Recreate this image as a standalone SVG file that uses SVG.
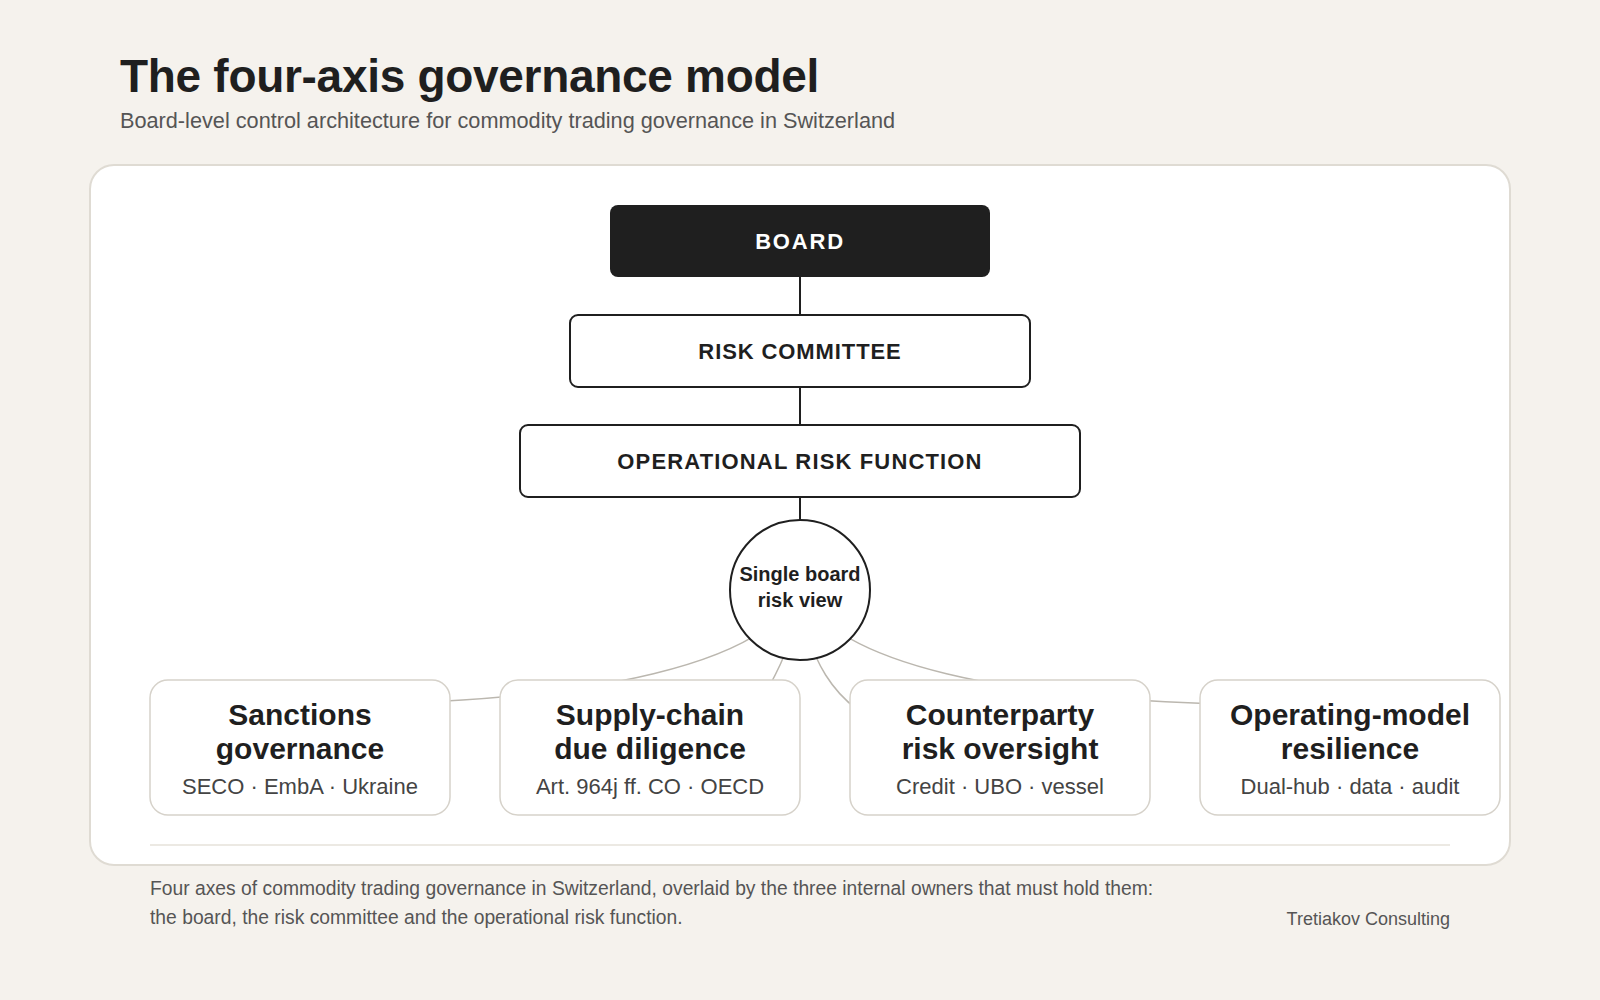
<svg xmlns="http://www.w3.org/2000/svg" width="1600" height="1000" viewBox="0 0 1600 1000">
<style>
text{font-family:"Liberation Sans",Arial,sans-serif}
.title{font-size:46px;font-weight:700;fill:#1f1f1f;letter-spacing:-0.3px}
.sub{font-size:21.7px;fill:#555}
.owner{fill:#fff;stroke:#1f1f1f;stroke-width:2}
.olabel{font-size:22px;font-weight:700;fill:#1f1f1f;text-anchor:middle;letter-spacing:0.9px}
.axis{fill:#fff;stroke:#d6d2ca;stroke-width:1.5}
.atitle{font-size:30px;font-weight:700;fill:#1f1f1f;text-anchor:middle}
.adesc{font-size:22px;fill:#444;text-anchor:middle}
.vline{stroke:#1f1f1f;stroke-width:2;fill:none}
.curve{stroke:#bbb7af;stroke-width:1.5;fill:none}
.foot{font-size:19.3px;fill:#555}
</style>
<rect x="0" y="0" width="1600" height="1000" fill="#f5f2ed"/>
<text class="title" x="120" y="92">The four-axis governance model</text>
<text class="sub" x="120" y="128">Board-level control architecture for commodity trading governance in Switzerland</text>
<rect x="90" y="165" width="1420" height="700" rx="24" fill="#fff" stroke="#dfdbd3" stroke-width="2"/>
<g id="connectors">
<path class="curve" d="M800 590 C768 660 608 705 300 705"/>
<path class="curve" d="M800 590 C832 660 992 705 1300 705"/>
<path class="curve" d="M800 590 C795 640 780 670 750 720"/>
<path class="curve" d="M800 590 C805 650 830 710 900 730"/>
<line class="vline" x1="800" y1="277" x2="800" y2="315"/>
<line class="vline" x1="800" y1="387" x2="800" y2="425"/>
<line class="vline" x1="800" y1="497" x2="800" y2="520"/>
</g>
<g id="board">
<rect x="610" y="205" width="380" height="72" rx="8" fill="#1f1f1f"/>
<text class="olabel" x="800" y="249" style="fill:#fff;letter-spacing:1.8px">BOARD</text>
</g>
<g id="risk-committee">
<rect class="owner" x="570" y="315" width="460" height="72" rx="8"/>
<text class="olabel" x="800" y="359">RISK COMMITTEE</text>
</g>
<g id="operational-risk">
<rect class="owner" x="520" y="425" width="560" height="72" rx="8"/>
<text class="olabel" x="800" y="469" style="letter-spacing:1.15px">OPERATIONAL RISK FUNCTION</text>
</g>
<g id="hub">
<circle cx="800" cy="590" r="70" fill="#fff" stroke="#1f1f1f" stroke-width="2"/>
<text x="800" y="581" style="font-size:20px;font-weight:700;fill:#1f1f1f;text-anchor:middle">Single board</text>
<text x="800" y="607" style="font-size:20px;font-weight:700;fill:#1f1f1f;text-anchor:middle">risk view</text>
</g>
<g id="axis-sanctions">
<rect class="axis" x="150" y="680" width="300" height="135" rx="18"/>
<text class="atitle" x="300" y="725">Sanctions</text>
<text class="atitle" x="300" y="759">governance</text>
<text class="adesc" x="300" y="794">SECO · EmbA · Ukraine</text>
</g>
<g id="axis-supply">
<rect class="axis" x="500" y="680" width="300" height="135" rx="18"/>
<text class="atitle" x="650" y="725">Supply-chain</text>
<text class="atitle" x="650" y="759">due diligence</text>
<text class="adesc" x="650" y="794">Art. 964j ff. CO · OECD</text>
</g>
<g id="axis-counterparty">
<rect class="axis" x="850" y="680" width="300" height="135" rx="18"/>
<text class="atitle" x="1000" y="725">Counterparty</text>
<text class="atitle" x="1000" y="759">risk oversight</text>
<text class="adesc" x="1000" y="794">Credit · UBO · vessel</text>
</g>
<g id="axis-operating">
<rect class="axis" x="1200" y="680" width="300" height="135" rx="18"/>
<text class="atitle" x="1350" y="725">Operating-model</text>
<text class="atitle" x="1350" y="759">resilience</text>
<text class="adesc" x="1350" y="794">Dual-hub · data · audit</text>
</g>
<line x1="150" y1="845" x2="1450" y2="845" stroke="#e6e2da" stroke-width="1.5"/>
<text class="foot" x="150" y="895">Four axes of commodity trading governance in Switzerland, overlaid by the three internal owners that must hold them:</text>
<text class="foot" x="150" y="924">the board, the risk committee and the operational risk function.</text>
<text x="1450" y="925" style="font-size:18px;fill:#555;text-anchor:end">Tretiakov Consulting</text>
</svg>
